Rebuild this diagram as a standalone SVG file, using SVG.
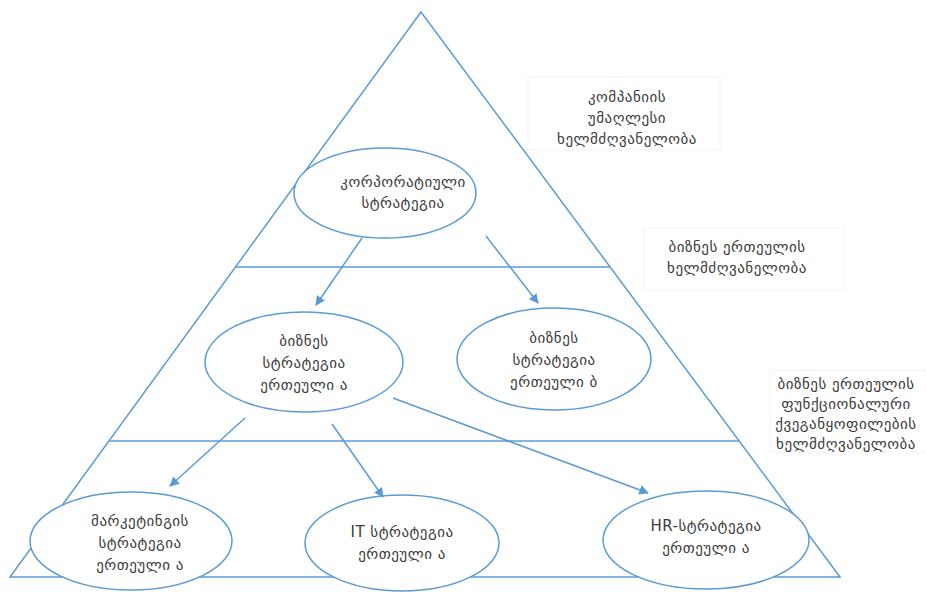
<svg xmlns="http://www.w3.org/2000/svg" width="926" height="598" viewBox="0 0 926 598">
<style>
.ln{fill:none;stroke:#5b9bd5;stroke-width:1.5}
.el{fill:#fff;stroke:#5b9bd5;stroke-width:1.5}
.bx{fill:#fff;stroke:#f2f2f2;stroke-width:1}
text{font-family:"DejaVu Sans","Noto Sans",sans-serif;font-size:15px;letter-spacing:0.5px;fill:#3a3a3a;text-anchor:middle}
</style>
<defs>
<marker id="ah" viewBox="0 0 10 10" refX="9" refY="5" markerWidth="6.5" markerHeight="6.5" orient="auto" markerUnits="strokeWidth">
<path d="M0,0 L10,5 L0,10 z" fill="#5b9bd5"/>
</marker>
</defs>
<rect width="926" height="598" fill="#fff"/>
<g id="pyramid">
<path class="ln" d="M421,12 L10,577 L840,577 Z"/>
<line class="ln" x1="236" y1="267" x2="610" y2="267"/>
<line class="ln" x1="109" y1="441" x2="739" y2="441"/>
</g>
<g id="label-top">
<rect class="bx" x="528" y="77" width="192" height="73"/>
<text x="627" y="102">კომპანიის</text>
<text x="627" y="123">უმაღლესი</text>
<text x="627" y="144">ხელმძღვანელობა</text>
</g>
<g id="label-mid">
<rect class="bx" x="644" y="228" width="200" height="62"/>
<text x="737" y="252">ბიზნეს ერთეულის</text>
<text x="737" y="273">ხელმძღვანელობა</text>
</g>
<g id="label-bottom">
<rect class="bx" x="770" y="370" width="156" height="82"/>
<text x="846" y="389">ბიზნეს ერთეულის</text>
<text x="846" y="409">ფუნქციონალური</text>
<text x="846" y="429">ქვეგანყოფილების</text>
<text x="846" y="449">ხელმძღვანელობა</text>
</g>
<g id="corporate">
<ellipse class="el" cx="385" cy="193" rx="91" ry="45"/>
<text x="403" y="187">კორპორატიული</text>
<text x="403" y="208">სტრატეგია</text>
</g>
<g id="business-a">
<ellipse class="el" cx="304" cy="362" rx="99" ry="50"/>
<text x="304" y="346">ბიზნეს</text>
<text x="304" y="368">სტრატეგია</text>
<text x="304" y="390">ერთეული ა</text>
</g>
<g id="business-b">
<ellipse class="el" cx="554" cy="359" rx="97" ry="51"/>
<text x="554" y="343">ბიზნეს</text>
<text x="554" y="365">სტრატეგია</text>
<text x="554" y="387">ერთეული ბ</text>
</g>
<g id="marketing">
<ellipse class="el" cx="131" cy="541" rx="101" ry="49"/>
<text x="140" y="526">მარკეტინგის</text>
<text x="140" y="548">სტრატეგია</text>
<text x="140" y="570">ერთეული ა</text>
</g>
<g id="it">
<ellipse class="el" cx="402" cy="543" rx="97" ry="48"/>
<text x="402" y="537">IT სტრატეგია</text>
<text x="402" y="559">ერთეული ა</text>
</g>
<g id="hr">
<ellipse class="el" cx="706" cy="540" rx="103" ry="49"/>
<text x="706" y="531">HR-სტრატეგია</text>
<text x="706" y="553">ერთეული ა</text>
</g>
<g id="connectors">
<line class="ln" x1="362" y1="238" x2="316" y2="305" marker-end="url(#ah)"/>
<line class="ln" x1="486" y1="236" x2="538" y2="303" marker-end="url(#ah)"/>
<line class="ln" x1="245" y1="418" x2="170" y2="486" marker-end="url(#ah)"/>
<line class="ln" x1="332" y1="424" x2="383" y2="497" marker-end="url(#ah)"/>
<line class="ln" x1="393" y1="398" x2="648" y2="493" marker-end="url(#ah)"/>
</g>
</svg>
